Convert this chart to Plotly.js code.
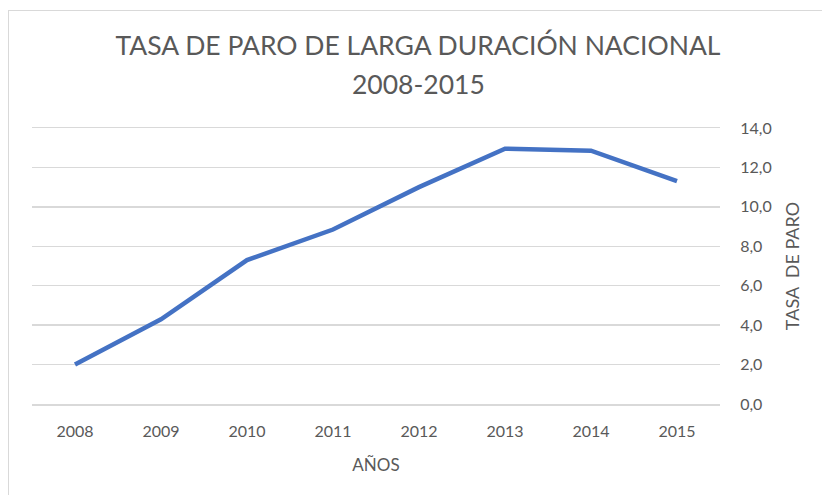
<!DOCTYPE html>
<html>
<head>
<meta charset="utf-8">
<script src="https://cdn.plot.ly/plotly-3.0.1.min.js"></script>
<style>
  html, body { margin: 0; padding: 0; background: #fff; }
  #wrap { position: relative; width: 822px; height: 495px; }
  #chart { width: 822px; height: 495px; }
  #frame { position: absolute; left: 8px; top: 10px; width: 814px; height: 485px;
           border-top: 1.5px solid #d9d9d9; border-left: 1.5px solid #d9d9d9;
           box-sizing: border-box; pointer-events: none; }
</style>
</head>
<body>
<div id="wrap">
  <div id="chart"></div>
  <div id="frame"></div>
</div>
<script>
const years = ["2008", "2009", "2010", "2011", "2012", "2013", "2014", "2015"];
const tasaParo = [2.0, 4.3, 7.3, 8.85, 11.0, 12.95, 12.85, 11.3];
const yTickVals = [0, 2, 4, 6, 8, 10, 12, 14];
const yTickText = ["0,0", "2,0", "4,0", "6,0", "8,0", "10,0", "12,0", "14,0"];
const titleLine1 = "TASA DE PARO DE LARGA DURACIÓN NACIONAL";
const titleLine2 = "2008-2015";

const FONT = "Lato, 'Open Sans', sans-serif";
const TXT = "#595959";
const GRID = "#d9d9d9";

const trace = {
  x: years,
  y: tasaParo,
  type: "scatter",
  mode: "lines",
  line: { color: "#4472C4", width: 4.5 },
  hoverinfo: "x+y"
};

const layout = {
  width: 822,
  height: 495,
  margin: { l: 32, r: 102, t: 128, b: 91 },
  paper_bgcolor: "#ffffff",
  plot_bgcolor: "#ffffff",
  showlegend: false,
  font: { family: FONT, color: TXT, size: 16 },
  title: {
    text: titleLine1,
    font: { family: FONT, size: 26.5, color: TXT },
    x: 418 / 822, xref: "container", xanchor: "center",
    y: 1 - 46 / 495, yref: "container", yanchor: "middle"
  },
  annotations: [{
    text: titleLine2,
    xref: "paper", yref: "paper",
    x: (418 - 32) / 688, y: (404 - 84) / 276,
    xanchor: "center", yanchor: "middle",
    showarrow: false,
    font: { family: FONT, size: 26.5, color: TXT }
  }],
  xaxis: {
    type: "category",
    range: [-0.5, 7.5],
    showgrid: false,
    zeroline: false,
    showline: true,
    mirror: true,
    linecolor: GRID,
    linewidth: 1.5,
    ticks: "outside",
    ticklen: 12,
    tickcolor: "rgba(0,0,0,0)",
    tickfont: { family: FONT, size: 16, color: TXT },
    title: { text: "AÑOS", font: { family: FONT, size: 17, color: TXT }, standoff: 20 }
  },
  yaxis: {
    side: "right",
    range: [0, 14],
    tickvals: yTickVals,
    ticktext: yTickText,
    showgrid: true,
    gridcolor: GRID,
    gridwidth: 1.5,
    zeroline: false,
    showline: false,
    ticks: "outside",
    ticklen: 16,
    tickcolor: "rgba(0,0,0,0)",
    tickfont: { family: FONT, size: 16, color: TXT },
    title: { text: "TASA  DE PARO", font: { family: FONT, size: 18, color: TXT }, standoff: 15 }
  }
};

Plotly.newPlot("chart", [trace], layout, { displayModeBar: false, staticPlot: true });
</script>
</body>
</html>
